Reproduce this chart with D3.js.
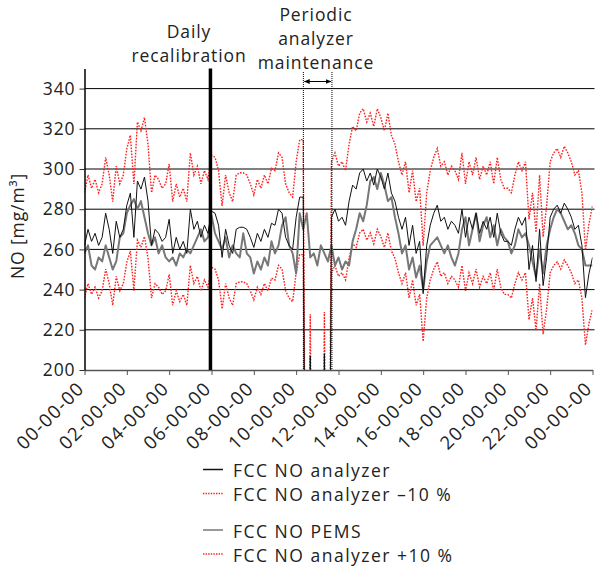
<!DOCTYPE html>
<html>
<head>
<meta charset="utf-8">
<script src="https://cdn.jsdelivr.net/npm/d3@7"></script>
<style>
  body { margin: 0; background: #fff; }
  text { font-family: "Open Sans", sans-serif; fill: #222; letter-spacing: 0.9px; }
</style>
</head>
<body>
<div id="chart"></div>
<script>
// one reading every 10 minutes, 00:00 to 24:00
const startTime = new Date(2021, 0, 1, 0, 0, 0);
const stepMinutes = 10;

const analyzer = [
  262, 270, 264, 268, 262, 266,
  278, 270, 258, 274, 266, 270,
  282, 288, 266, 294, 290, 296,
  284, 262, 270, 268, 264, 266,
  275, 258, 266, 260, 264, 258,
  280, 270, 274, 266, 272, 268,
  279, 278, 272, 256, 270, 262,
  258, 270, 271, 271, 270, 266,
  261, 268, 264, 270, 266, 273,
  272, 280, 278, 266, 262, 260,
  276, 286, 286, 0, 207, 0,
  0, 0, 208, 0, 276, 280,
  274, 276, 272, 284, 292, 290,
  298, 300, 294, 298, 292, 300,
  296, 290, 298, 288, 284, 276,
  270, 276, 262, 272, 258, 264,
  238, 262, 272, 278, 282, 274,
  276, 270, 274, 272, 268, 280,
  266, 276, 270, 278, 268, 274,
  270, 276, 266, 278, 268, 264,
  264, 262, 270, 276, 272, 276,
  250, 262, 244, 270, 242, 256,
  276, 280, 282, 278, 283, 280,
  276, 270, 272, 262, 236, 248,
  256
];

const pems = [
  258, 262, 252, 250, 256, 254,
  262, 256, 250, 254, 266, 268,
  278, 282, 285, 280, 284, 276,
  268, 262, 266, 258, 262, 256,
  254, 256, 252, 258, 256, 260,
  258, 262, 266, 270, 264, 266,
  277, 268, 264, 260, 266, 256,
  262, 258, 256, 268, 258, 256,
  248, 254, 250, 256, 252, 264,
  258, 262, 272, 276, 262, 258,
  248, 278, 270, 278, 256, 258,
  252, 262, 258, 254, 262, 252,
  256, 250, 254, 252, 264, 270,
  278, 274, 282, 294, 296, 290,
  298, 292, 284, 286, 276, 268,
  258, 262, 250, 256, 246, 252,
  240, 254, 262, 264, 266, 262,
  258, 262, 256, 252, 258, 270,
  276, 262, 270, 278, 264, 272,
  276, 266, 272, 262, 270, 266,
  264, 258, 262, 270, 266, 268,
  262, 254, 246, 260, 248, 262,
  270, 276, 280, 278, 274, 270,
  272, 268, 262, 260, 252, 252,
  252
];

const analyzerMinus10 = [
  235.8, 243, 237.6, 241.2, 235.8, 239.4,
  250.2, 243, 232.2, 246.6, 239.4, 243,
  253.8, 259.2, 239.4, 264.6, 261, 266.4,
  255.6, 235.8, 243, 241.2, 237.6, 239.4,
  247.5, 232.2, 239.4, 234, 237.6, 232.2,
  252, 243, 246.6, 239.4, 244.8, 241.2,
  251.1, 250.2, 244.8, 230.4, 243, 235.8,
  232.2, 243, 243.9, 243.9, 243, 239.4,
  234.9, 241.2, 237.6, 243, 239.4, 245.7,
  244.8, 252, 250.2, 239.4, 235.8, 234,
  248.4, 257.4, 257.4, 0, 186.3, 0,
  0, 0, 187.2, 0, 248.4, 252,
  246.6, 248.4, 244.8, 255.6, 262.8, 261,
  268.2, 270, 264.6, 268.2, 262.8, 270,
  266.4, 261, 268.2, 259.2, 255.6, 248.4,
  243, 248.4, 235.8, 244.8, 232.2, 237.6,
  214.2, 235.8, 244.8, 250.2, 253.8, 246.6,
  248.4, 243, 246.6, 244.8, 241.2, 252,
  239.4, 248.4, 243, 250.2, 241.2, 246.6,
  243, 248.4, 239.4, 250.2, 241.2, 237.6,
  237.6, 235.8, 243, 248.4, 244.8, 248.4,
  225, 235.8, 219.6, 243, 217.8, 230.4,
  248.4, 252, 253.8, 250.2, 254.7, 252,
  248.4, 243, 244.8, 235.8, 212.4, 223.2,
  230.4
];

const analyzerPlus10 = [
  288.2, 297, 290.4, 294.8, 288.2, 292.6,
  305.8, 297, 283.8, 301.4, 292.6, 297,
  310.2, 316.8, 292.6, 323.4, 319, 325.6,
  312.4, 288.2, 297, 294.8, 290.4, 292.6,
  302.5, 283.8, 292.6, 286, 290.4, 283.8,
  308, 297, 301.4, 292.6, 299.2, 294.8,
  306.9, 305.8, 299.2, 281.6, 297, 288.2,
  283.8, 297, 298.1, 298.1, 297, 292.6,
  287.1, 294.8, 290.4, 297, 292.6, 300.3,
  299.2, 308, 305.8, 292.6, 288.2, 286,
  303.6, 314.6, 314.6, 0, 227.7, 0,
  0, 0, 228.8, 0, 303.6, 308,
  301.4, 303.6, 299.2, 312.4, 321.2, 319,
  327.8, 330, 323.4, 327.8, 321.2, 330,
  325.6, 319, 327.8, 316.8, 312.4, 303.6,
  297, 303.6, 288.2, 299.2, 283.8, 290.4,
  261.8, 288.2, 299.2, 305.8, 310.2, 301.4,
  303.6, 297, 301.4, 299.2, 294.8, 308,
  292.6, 303.6, 297, 305.8, 294.8, 301.4,
  297, 303.6, 292.6, 305.8, 294.8, 290.4,
  290.4, 288.2, 297, 303.6, 299.2, 303.6,
  275, 288.2, 268.4, 297, 266.2, 281.6,
  303.6, 308, 310.2, 305.8, 311.3, 308,
  303.6, 297, 299.2, 288.2, 259.6, 272.8,
  281.6
];

const yTickValues = [200, 220, 240, 260, 280, 300, 320, 340];
// event times in hours after midnight
const recalibrationHour = 5.95;
const maintenanceHours = [10.34, 11.69];

const legendLabels = ["FCC NO analyzer", "FCC NO analyzer \u201310 %", "FCC NO PEMS", "FCC NO analyzer +10 %"];

const width = 598;
const height = 567;
const margin = { top: 68.5, left: 84.5, right: 5.5, bottom: 197 };
const plotWidth = width - margin.left - margin.right;
const plotHeight = height - margin.top - margin.bottom;

const times = analyzer.map((d, i) => d3.timeMinute.offset(startTime, i * stepMinutes));
const endTime = d3.timeDay.offset(startTime, 1);
const atHour = h => new Date(+startTime + h * 3600 * 1000);

const xScale = d3.scaleTime().domain([startTime, endTime]).range([0, plotWidth]);
const yScale = d3.scaleLinear().domain([200, 350]).range([plotHeight, 0]);

const svg = d3.select("#chart").append("svg")
  .attr("width", width)
  .attr("height", height);

const plotG = svg.append("g")
  .attr("transform", `translate(${margin.left},${margin.top})`);

// horizontal grid
plotG.append("g")
  .selectAll("line")
  .data(yTickValues.filter(v => v > 200))
  .enter()
  .append("line")
  .attr("x1", 0)
  .attr("x2", plotWidth + 2)
  .attr("y1", d => yScale(d))
  .attr("y2", d => yScale(d))
  .attr("stroke", "#000")
  .attr("stroke-width", 1);

svg.append("defs").append("clipPath")
  .attr("id", "plot-clip")
  .append("rect")
  .attr("x", 0)
  .attr("y", 0)
  .attr("width", plotWidth)
  .attr("height", plotHeight);

const linesG = plotG.append("g").attr("clip-path", "url(#plot-clip)");

const line = d3.line()
  .x((d, i) => xScale(times[i]))
  .y(d => yScale(d));

linesG.append("path")
  .datum(analyzerMinus10)
  .attr("d", line)
  .attr("fill", "none")
  .attr("stroke", "#ff1f1f")
  .attr("stroke-width", 1.4)
  .attr("stroke-dasharray", "1.6,1.4");

linesG.append("path")
  .datum(analyzerPlus10)
  .attr("d", line)
  .attr("fill", "none")
  .attr("stroke", "#ff1f1f")
  .attr("stroke-width", 1.4)
  .attr("stroke-dasharray", "1.6,1.4");

linesG.append("path")
  .datum(pems)
  .attr("d", line)
  .attr("fill", "none")
  .attr("stroke", "#777")
  .attr("stroke-width", 2)
  .attr("stroke-linejoin", "round");

linesG.append("path")
  .datum(analyzer)
  .attr("d", line)
  .attr("fill", "none")
  .attr("stroke", "#111")
  .attr("stroke-width", 1);

// axes
const xAxis = d3.axisBottom(xScale)
  .ticks(d3.timeHour.every(2))
  .tickFormat(d3.timeFormat("%H-%M-%S"))
  .tickSize(5)
  .tickSizeOuter(0);

const yAxis = d3.axisLeft(yScale)
  .tickValues(yTickValues)
  .tickSize(5)
  .tickSizeOuter(0);

const xAxisG = plotG.append("g")
  .attr("transform", `translate(0,${plotHeight})`)
  .call(xAxis);
xAxisG.select(".domain").attr("stroke", "#555").attr("stroke-width", 1.5);
xAxisG.selectAll(".tick line").attr("stroke", "#555");
xAxisG.selectAll("text")
  .attr("font-size", 18.5)
  .style("letter-spacing", "1.4px")
  .attr("text-anchor", "end")
  .attr("fill", "#222")
  .attr("y", 0)
  .attr("transform", "translate(-4,15) rotate(-45)")
  .attr("dy", "0.35em");

const yAxisG = plotG.append("g").call(yAxis);
yAxisG.select(".domain").attr("stroke", "#000").attr("stroke-width", 1.5);
yAxisG.selectAll(".tick line").attr("stroke", "#333");
yAxisG.selectAll("text")
  .attr("font-size", 17.5)
  .attr("fill", "#222")
  .attr("x", -9);

// y-axis title
svg.append("text")
  .attr("transform", "translate(24,226) rotate(-90)")
  .attr("text-anchor", "middle")
  .attr("font-size", 17.5)
  .text("NO [mg/m\u00b3]");

// daily recalibration marker
const recalX = xScale(atHour(recalibrationHour));
plotG.append("line")
  .attr("x1", recalX).attr("x2", recalX)
  .attr("y1", 0).attr("y2", plotHeight)
  .attr("stroke", "#000")
  .attr("stroke-width", 3.5);

const annG = svg.append("g").attr("font-size", 17.5).attr("text-anchor", "middle");
annG.append("text").attr("x", 189).attr("y", 38).text("Daily");
annG.append("text").attr("x", 189).attr("y", 62).text("recalibration");
annG.append("text").attr("x", 316).attr("y", 21).text("Periodic");
annG.append("text").attr("x", 316).attr("y", 45).text("analyzer");
annG.append("text").attr("x", 316).attr("y", 69).text("maintenance");

// maintenance window
const maintX = maintenanceHours.map(h => xScale(atHour(h)));
plotG.selectAll(".maint")
  .data(maintX)
  .enter()
  .append("line")
  .attr("class", "maint")
  .attr("x1", d => d).attr("x2", d => d)
  .attr("y1", 72 - margin.top).attr("y2", plotHeight)
  .attr("stroke", "#000")
  .attr("stroke-width", 1)
  .attr("stroke-dasharray", "1,1");

const defs = svg.select("defs");
defs.append("marker")
  .attr("id", "arrow")
  .attr("viewBox", "0 0 10 10")
  .attr("refX", 9).attr("refY", 5)
  .attr("markerWidth", 6).attr("markerHeight", 6)
  .attr("orient", "auto-start-reverse")
  .append("path")
  .attr("d", "M0,1 L10,5 L0,9 Z")
  .attr("fill", "#000");

plotG.append("line")
  .attr("x1", maintX[0] + 1).attr("x2", maintX[1] - 1)
  .attr("y1", 81.5 - margin.top).attr("y2", 81.5 - margin.top)
  .attr("stroke", "#000")
  .attr("stroke-width", 1)
  .attr("marker-start", "url(#arrow)")
  .attr("marker-end", "url(#arrow)");

// legend
const legendRows = [
  { label: legendLabels[0], y: 469.5, color: "#111", width: 1.5, dash: null },
  { label: legendLabels[1], y: 493.5, color: "#ff1f1f", width: 1.4, dash: "1.4,1.2" },
  { label: legendLabels[2], y: 530, color: "#777", width: 1.5, dash: null },
  { label: legendLabels[3], y: 554, color: "#ff1f1f", width: 1.4, dash: "1.4,1.2" }
];

const legendG = svg.append("g");
const rowsG = legendG.selectAll("g")
  .data(legendRows)
  .enter()
  .append("g")
  .attr("transform", d => `translate(203,${d.y})`);

rowsG.append("line")
  .attr("x1", 0).attr("x2", 20)
  .attr("stroke", d => d.color)
  .attr("stroke-width", d => d.width)
  .attr("stroke-dasharray", d => d.dash);

rowsG.append("text")
  .attr("x", 30)
  .attr("y", 7.5)
  .attr("font-size", 17.5)
  .style("letter-spacing", "1.5px")
  .text(d => d.label);
</script>
</body>
</html>
